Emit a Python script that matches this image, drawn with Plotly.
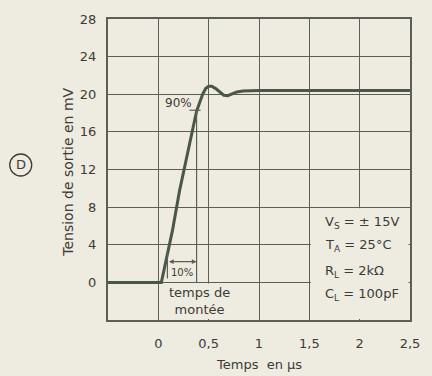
import plotly.graph_objects as go

# ---- data ----
time_us = [-0.5, 0.03, 0.14, 0.21, 0.30, 0.38, 0.44, 0.47, 0.50, 0.53, 0.57, 0.61,
           0.65, 0.69, 0.73, 0.78, 0.84, 1.0, 2.5]
vout_mv = [0, 0, 5.5, 9.7, 14.2, 18.2, 20.0, 20.6, 20.85, 20.85, 20.6, 20.2,
           19.9, 19.85, 20.0, 20.25, 20.35, 20.4, 20.4]

x_tickvals = [0, 0.5, 1, 1.5, 2, 2.5]
x_ticktext = ["0", "0,5", "1", "1,5", "2", "2,5"]
y_tickvals = [0, 4, 8, 12, 16, 20, 24, 28]
y_ticktext = ["0", "4", "8", "12", "16", "20", "24", "28"]

conditions = ["V<sub>S</sub> = ± 15V", "T<sub>A</sub> = 25°C",
              "R<sub>L</sub> = 2kΩ", "C<sub>L</sub> = 100pF"]
cond_y = [6.4, 3.9, 1.2, -1.3]

BG = "#eeebe0"
GRID = "#5c5f57"
INK = "#3b3c36"
CURVE = "#4b5649"
FONT = "DejaVu Sans"

fig = go.Figure()
fig.add_trace(go.Scatter(x=time_us, y=vout_mv, mode="lines",
                         line=dict(color=CURVE, width=3), hoverinfo="skip",
                         showlegend=False))

shapes = [
    # blank area behind the conditions box
    dict(type="rect", xref="x", yref="y", x0=1.515, x1=2.485, y0=-3.9, y1=7.88,
         fillcolor=BG, line=dict(width=0), layer="between"),
    # blank area behind "temps de montée"
    dict(type="rect", xref="x", yref="y", x0=0.015, x1=0.985, y0=-3.9, y1=-0.12,
         fillcolor=BG, line=dict(width=0), layer="between"),
    # 90 % marker
    dict(type="line", xref="x", yref="y", x0=0.31, x1=0.42, y0=18.3, y1=18.3,
         line=dict(color=GRID, width=1.2)),
    dict(type="line", xref="x", yref="y", x0=0.38, x1=0.38, y0=18.3, y1=0,
         line=dict(color=GRID, width=1.2)),
    # 10 % marker
    dict(type="line", xref="x", yref="y", x0=0.09, x1=0.09, y0=0.4, y1=3.3,
         line=dict(color=GRID, width=1.2)),
    # circled D
    dict(type="circle", xref="paper", yref="paper", xsizemode="pixel",
         ysizemode="pixel", xanchor=-0.289, yanchor=0.515,
         x0=-11, x1=11, y0=-11, y1=11, line=dict(color=INK, width=1.3)),
]

annotations = [
    dict(text="D", x=-0.289, y=0.515, xref="paper", yref="paper", showarrow=False,
         xanchor="center", yanchor="middle",
         font=dict(size=13, color=INK, family=FONT)),
    dict(text="Tension de sortie en mV", x=-0.135, y=0.49, xref="paper",
         yref="paper", textangle=-90, showarrow=False, xanchor="center",
         yanchor="middle", font=dict(size=14, color=INK, family=FONT)),
    dict(text="Temps  en µs", x=0.5, y=-0.148, xref="paper", yref="paper",
         showarrow=False, xanchor="center", yanchor="middle",
         font=dict(size=13, color=INK, family=FONT)),
    dict(text="90%", x=0.2, y=19.1, xref="x", yref="y", showarrow=False,
         font=dict(size=12, color=INK, family=FONT)),
    dict(text="10%", x=0.24, y=1.0, xref="x", yref="y", showarrow=False,
         font=dict(size=10, color=INK, family=FONT)),
    dict(text="", x=0.38, y=2.2, ax=0.09, ay=2.2, xref="x", yref="y",
         axref="x", ayref="y", showarrow=True, arrowhead=2, arrowside="end+start",
         arrowsize=0.8, arrowwidth=1.2, arrowcolor=GRID),
    dict(text="temps de<br>montée", x=0.41, y=-2.0, xref="x", yref="y",
         showarrow=False, xanchor="center", yanchor="middle",
         font=dict(size=13, color=INK, family=FONT)),
]
for t, yy in zip(conditions, cond_y):
    annotations.append(dict(text=t, x=1.64, y=yy, xref="x", yref="y",
                            xanchor="left", yanchor="middle", showarrow=False,
                            font=dict(size=13, color=INK, family=FONT)))

fig.update_layout(
    width=432, height=376,
    margin=dict(l=108, r=20, t=15, b=56),
    paper_bgcolor=BG, plot_bgcolor=BG,
    shapes=shapes, annotations=annotations,
    font=dict(family=FONT, color=INK, size=13),
    xaxis=dict(range=[-0.5, 2.5], tickvals=x_tickvals, ticktext=x_ticktext,
               showgrid=True, gridcolor=GRID, gridwidth=1.4, zeroline=False,
               showline=True, linecolor=GRID, linewidth=2, mirror=True,
               ticks="", ticklabelstandoff=10, fixedrange=True,
               tickfont=dict(size=13)),
    yaxis=dict(range=[-4, 28], tickvals=y_tickvals, ticktext=y_ticktext,
               showgrid=True, gridcolor=GRID, gridwidth=1.4, zeroline=False,
               showline=True, linecolor=GRID, linewidth=2, mirror=True,
               ticks="", ticklabelstandoff=7, fixedrange=True,
               tickfont=dict(size=13)),
)

fig.write_html(
    "out.html",
    config={"displayModeBar": False},
    post_script="document.body.style.margin='0';document.body.style.background='%s';" % BG,
)
